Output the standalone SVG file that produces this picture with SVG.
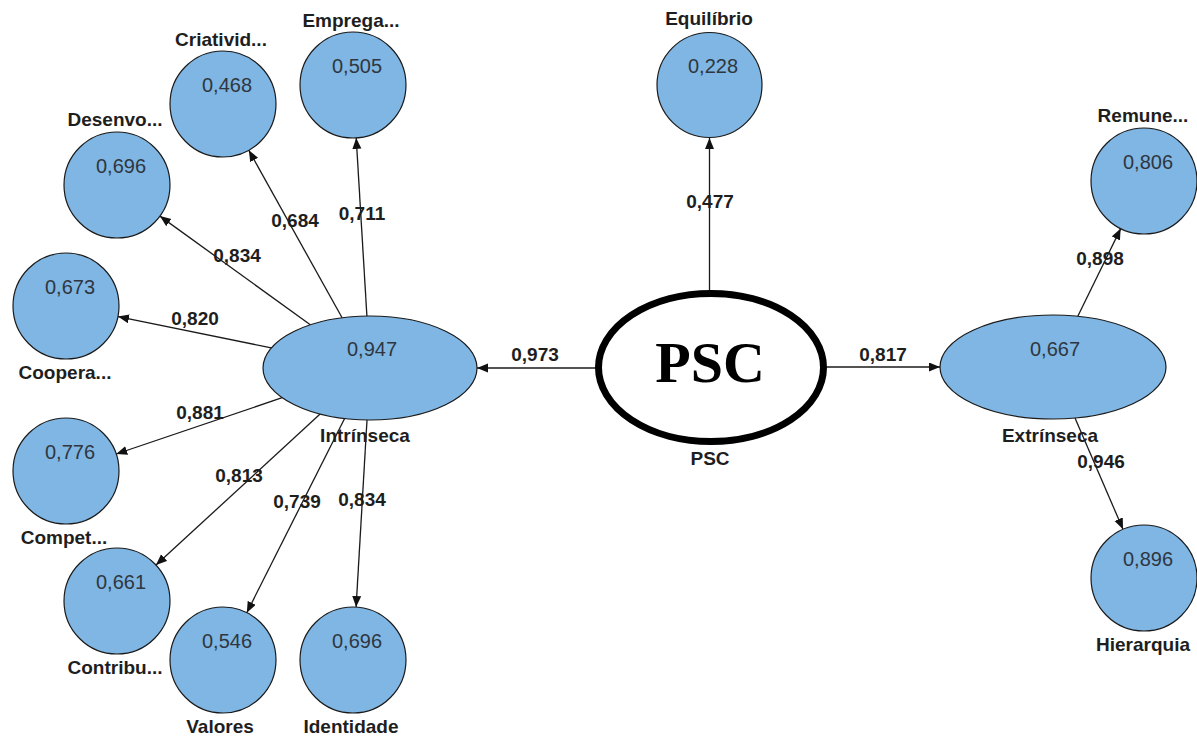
<svg xmlns="http://www.w3.org/2000/svg" width="1197" height="738" viewBox="0 0 1197 738">
<style>
.c{fill:#7fb6e3;stroke:#1a1a1a;stroke-width:1.2}
.v{font-family:"Liberation Sans",Arial,sans-serif;font-size:20px;fill:#2f3640;text-anchor:middle}
.l{font-family:"Liberation Sans",Arial,sans-serif;font-size:19px;font-weight:bold;fill:#1e1e1e;text-anchor:middle}
.e{stroke:#1a1a1a;stroke-width:1.3;fill:none;marker-end:url(#ah)}
.w{font-family:"Liberation Sans",Arial,sans-serif;font-size:19px;font-weight:bold;fill:#1e1e1e;text-anchor:middle}
</style>
<defs>
<marker id="ah" markerUnits="userSpaceOnUse" markerWidth="12" markerHeight="10" refX="11" refY="4.5" orient="auto">
<path d="M0,0 L11,4.5 L0,9 z" fill="#111"/>
</marker>
</defs>
<rect width="1197" height="738" fill="#fff"/>
<g id="connectors">
<line class="e" x1="366.9" y1="316" x2="356.2" y2="137.9"/>
<line class="e" x1="342.1" y1="317.8" x2="248.8" y2="150.3"/>
<line class="e" x1="310.3" y1="324.8" x2="159.9" y2="216.1"/>
<line class="e" x1="271.3" y1="347.9" x2="118" y2="316.6"/>
<line class="e" x1="282.2" y1="397.7" x2="116.2" y2="454"/>
<line class="e" x1="320.1" y1="414" x2="156" y2="565.1"/>
<line class="e" x1="344.6" y1="418.5" x2="246.8" y2="612.7"/>
<line class="e" x1="367" y1="420" x2="356.1" y2="607.1"/>
<line class="e" x1="595" y1="368" x2="477" y2="368"/>
<line class="e" x1="827" y1="367" x2="940" y2="367"/>
<line class="e" x1="709.5" y1="290" x2="709.5" y2="138"/>
<line class="e" x1="1077.8" y1="316.3" x2="1120.7" y2="228.6"/>
<line class="e" x1="1075" y1="418" x2="1123" y2="529.3"/>
</g>
<g id="edge-labels">
<text class="w" x="362" y="220">0,711</text>
<text class="w" x="295" y="227">0,684</text>
<text class="w" x="237" y="262">0,834</text>
<text class="w" x="195" y="325">0,820</text>
<text class="w" x="200" y="419">0,881</text>
<text class="w" x="239" y="482">0,813</text>
<text class="w" x="297" y="508">0,739</text>
<text class="w" x="362" y="506">0,834</text>
<text class="w" x="535" y="361">0,973</text>
<text class="w" x="883" y="361">0,817</text>
<text class="w" x="710" y="208">0,477</text>
<text class="w" x="1100" y="265">0,898</text>
<text class="w" x="1101" y="468">0,946</text>
</g>
<g id="node-emprega"><circle class="c" cx="353" cy="85" r="53"/><text class="v" x="357" y="73">0,505</text><text class="l" x="351" y="27">Emprega...</text></g>
<g id="node-criatividade"><circle class="c" cx="223" cy="104" r="53"/><text class="v" x="227" y="92">0,468</text><text class="l" x="221" y="46">Criativid...</text></g>
<g id="node-desenvolvimento"><circle class="c" cx="117" cy="185" r="53"/><text class="v" x="121" y="173">0,696</text><text class="l" x="115" y="126">Desenvo...</text></g>
<g id="node-cooperacao"><circle class="c" cx="66" cy="306" r="53"/><text class="v" x="70" y="294">0,673</text><text class="l" x="65" y="379">Coopera...</text></g>
<g id="node-competencia"><circle class="c" cx="66" cy="471" r="53"/><text class="v" x="70" y="459">0,776</text><text class="l" x="64" y="544">Compet...</text></g>
<g id="node-contribuicao"><circle class="c" cx="117" cy="601" r="53"/><text class="v" x="121" y="589">0,661</text><text class="l" x="115" y="674">Contribu...</text></g>
<g id="node-valores"><circle class="c" cx="223" cy="660" r="53"/><text class="v" x="227" y="648">0,546</text><text class="l" x="220" y="733">Valores</text></g>
<g id="node-identidade"><circle class="c" cx="353" cy="660" r="53"/><text class="v" x="357" y="648">0,696</text><text class="l" x="351" y="733">Identidade</text></g>
<g id="node-intrinseca"><ellipse class="c" cx="370" cy="368" rx="107" ry="52"/><text class="v" x="372" y="356">0,947</text><text class="l" x="365" y="442">Intrínseca</text></g>
<g id="node-psc"><ellipse cx="711" cy="367.5" rx="112.5" ry="74" fill="#fff" stroke="#000" stroke-width="7"/><text x="710" y="382" font-family="'Liberation Serif','Times New Roman',serif" font-size="58" font-weight="bold" fill="#000" text-anchor="middle">PSC</text><text class="l" x="710" y="465">PSC</text></g>
<g id="node-equilibrio"><circle class="c" cx="709.5" cy="85" r="52.5"/><text class="v" x="713" y="73">0,228</text><text class="l" x="709" y="25">Equilíbrio</text></g>
<g id="node-extrinseca"><ellipse class="c" cx="1053" cy="367" rx="113" ry="52"/><text class="v" x="1055" y="356">0,667</text><text class="l" x="1050" y="442">Extrínseca</text></g>
<g id="node-remuneracao"><circle class="c" cx="1144" cy="181" r="53"/><text class="v" x="1148" y="169">0,806</text><text class="l" x="1143" y="122">Remune...</text></g>
<g id="node-hierarquia"><circle class="c" cx="1144" cy="578" r="53"/><text class="v" x="1148" y="566">0,896</text><text class="l" x="1143" y="651">Hierarquia</text></g>
</svg>
